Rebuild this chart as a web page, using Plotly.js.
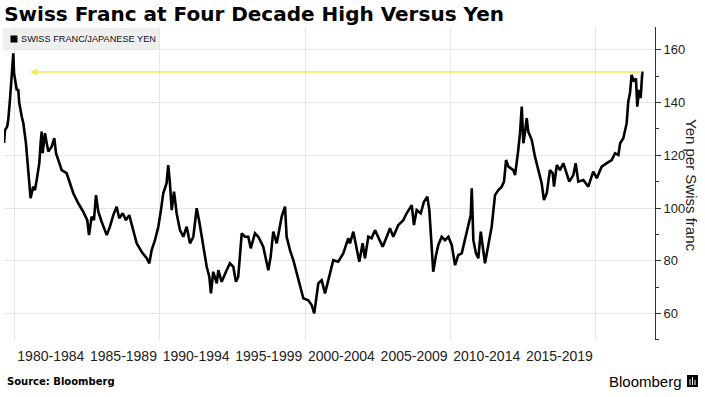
<!DOCTYPE html>
<html>
<head>
<meta charset="utf-8">
<script src="https://cdn.plot.ly/plotly-3.0.1.min.js"></script>
<style>
html,body{margin:0;padding:0;background:#fff;}
#chart{width:705px;height:397px;}
</style>
</head>
<body>
<div id="chart"></div>
<script>
// Decimal years
const years = [
1979.28,1979.35,1979.50,1979.57,1979.69,1979.81,1979.92,1979.97,1980.03,1980.15,
1980.26,1980.33,1980.50,1980.61,1980.79,1980.91,1981.07,1981.11,1981.29,1981.41,
1981.53,1981.71,1981.80,1981.87,1981.94,1982.10,1982.22,1982.33,1982.56,1982.74,
1982.86,1983.01,1983.25,1983.59,1983.82,1984.05,1984.39,1984.73,1985.01,1985.13,
1985.31,1985.47,1985.61,1985.77,1986.00,1986.35,1986.57,1986.80,1987.03,1987.21,
1987.45,1987.67,1987.90,1988.18,1988.41,1988.75,1989.10,1989.28,1989.44,1989.67,
1989.90,1990.08,1990.24,1990.47,1990.58,1990.70,1990.82,1990.98,1991.16,1991.39,
1991.62,1991.85,1992.08,1992.31,1992.54,1992.72,1992.99,1993.23,1993.41,1993.52,
1993.68,1993.92,1994.03,1994.26,1994.60,1994.83,1995.06,1995.24,1995.40,1995.64,
1995.86,1996.09,1996.26,1996.55,1996.78,1997.12,1997.47,1997.63,1997.81,1998.05,
1998.39,1998.62,1998.73,1998.96,1999.19,1999.42,1999.65,1999.88,2000.22,2000.45,
2000.63,2000.91,2001.14,2001.37,2001.60,2001.94,2002.28,2002.63,2002.97,2003.09,
2003.32,2003.55,2003.73,2003.96,2004.12,2004.35,2004.58,2004.81,2005.04,2005.34,
2005.62,2005.84,2006.07,2006.41,2006.76,2006.99,2007.34,2007.49,2007.68,2007.96,
2008.18,2008.41,2008.55,2008.71,2008.82,2009.01,2009.17,2009.40,2009.63,2009.86,
2010.09,2010.32,2010.54,2010.78,2011.00,2011.23,2011.40,2011.47,2011.58,2011.76,
2011.92,2012.09,2012.26,2012.38,2012.61,2012.84,2013.07,2013.30,2013.53,2013.69,
2013.83,2013.99,2014.33,2014.45,2014.67,2014.79,2014.91,2015.02,2015.13,2015.25,
2015.36,2015.60,2015.82,2016.05,2016.28,2016.44,2016.63,2016.85,2017.04,2017.13,
2017.32,2017.54,2017.77,2017.96,2018.18,2018.46,2018.62,2018.80,2019.15,2019.49,
2019.83,2020.07,2020.41,2020.76,2021.10,2021.33,2021.56,2021.68,2021.90,2022.13,
2022.24,2022.36,2022.47,2022.63,2022.77,2022.86,2022.99,2023.09,2023.21
];
// Yen per Swiss franc
const chfJpy = [
124.7,129.6,130.9,133.4,141.0,148.6,158.7,151.3,148.6,145.0,
144.8,139.9,134.7,132.2,124.6,117.0,108.1,103.7,108.1,106.8,
110.6,117.0,124.6,129.0,120.8,128.4,124.6,121.4,123.3,126.5,
120.8,118.2,114.4,113.2,109.4,105.6,101.8,98.6,95.4,89.7,
96.7,95.4,104.9,98.6,94.8,89.7,92.9,97.3,100.5,96.1,
98.0,95.4,97.3,91.6,86.6,83.4,80.9,79.0,84.0,87.8,
92.9,99.2,105.6,109.4,116.3,109.4,99.2,106.2,98.0,91.6,
89.1,92.9,86.6,89.1,99.9,94.8,85.3,77.7,73.9,67.6,
75.8,71.4,76.4,72.0,76.4,79.0,77.7,72.0,73.9,90.4,
89.1,89.1,84.7,90.4,89.1,85.3,76.4,81.5,91.0,86.6,
96.7,100.5,89.1,84.0,80.2,75.2,70.1,65.7,65.0,63.2,
60.0,71.4,72.6,67.6,72.6,80.2,79.6,82.8,88.5,86.6,
91.0,84.0,79.6,86.6,80.9,89.1,88.5,91.6,89.1,85.3,
89.1,92.3,89.1,93.5,95.4,98.0,101.1,93.5,99.2,98.0,
102.4,104.3,99.2,85.3,75.8,82.1,86.0,89.1,87.8,89.1,
86.0,78.3,82.1,82.8,87.8,93.5,97.3,107.5,87.8,82.8,
80.9,91.0,82.8,79.0,86.0,92.9,104.9,106.8,108.1,110.0,
118.2,115.7,114.4,112.5,122.0,128.4,138.5,124.6,128.4,134.1,
129.0,125.8,119.5,114.4,109.4,103.0,105.6,114.4,113.2,108.1,
116.3,114.4,117.0,113.8,110.0,112.5,117.0,110.0,110.6,108.1,
113.8,111.3,115.7,117.0,118.2,120.8,120.1,124.6,126.5,132.2,
140.4,143.6,150.5,148.0,149.2,138.5,144.8,141.7,151.8
];
const xTickVals = [1982.5,1987.5,1992.5,1997.5,2002.5,2007.5,2012.5,2017.5];
const xTickText = ['1980-1984','1985-1989','1990-1994','1995-1999','2000-2004','2005-2009','2010-2014','2015-2019'];
const yTickVals = [60,80,100,120,140,160];
const seriesName = 'SWISS FRANC/JAPANESE YEN';
const peakLevel = 151.6;
const arrowFrom = 2023.26, arrowTo = 1981.07;

// pixel -> paper helpers for decorations (plot area: x 4..655, y 27..340)
const px = v => (v - 4) / 651;
const py = v => (340 - v) / 313;

const tickFont = {family:'Liberation Sans, Arial, sans-serif', size:13, color:'#222'};

const data = [{
  type:'scatter', mode:'lines', x:years, y:chfJpy, name:seriesName,
  line:{color:'#000', width:2.6}, hoverinfo:'skip', showlegend:false
}];

const layout = {
  width:705, height:397,
  margin:{l:4, r:50, t:27, b:57},
  paper_bgcolor:'#fff', plot_bgcolor:'#fff',
  title:{text:'<b>Swiss Franc at Four Decade High Versus Yen</b>',
    xref:'container', yref:'container', x:0.006, xanchor:'left', y:1-14/397, yanchor:'middle',
    font:{family:'DejaVu Sans, Verdana, sans-serif', size:20, color:'#000'}},
  xaxis:{range:[1979.28, 2024.08], tickmode:'array', tickvals:xTickVals, ticktext:xTickText,
    showgrid:false, zeroline:false, showline:false, ticks:'', ticklabelstandoff:6,
    tickfont:{family:'Liberation Sans, Arial, sans-serif', size:14, color:'#222'},
    minor:{tick0:1980, dtick:10, showgrid:true, gridcolor:'#e6e6e6', gridwidth:1, ticks:''}},
  yaxis:{side:'right', range:[49.9,168.7], tickmode:'array', tickvals:yTickVals,
    showgrid:true, gridcolor:'#e6e6e6', gridwidth:1, zeroline:false,
    showline:true, linecolor:'#333', linewidth:1,
    ticks:'outside', ticklen:5, tickcolor:'#333', tickfont:tickFont,
    minor:{tick0:0, dtick:10, ticks:'outside', ticklen:3, tickcolor:'#333', showgrid:false}},
  annotations:[
    {xref:'paper', yref:'paper', x:px(19), y:py(39), xanchor:'left', yanchor:'middle',
     text:seriesName, showarrow:false, align:'left',
     font:{family:'Liberation Sans, Arial, sans-serif', size:9.2, color:'#111'}},
    {xref:'x', yref:'y', axref:'x', ayref:'y', x:arrowTo, y:peakLevel, ax:arrowFrom, ay:peakLevel,
     text:'', showarrow:true, arrowhead:2, arrowsize:1, arrowwidth:1.5, arrowcolor:'#f3ea55', standoff:0},
    {xref:'paper', yref:'paper', x:px(692), y:py(185), xanchor:'center', yanchor:'middle',
     text:'Yen per Swiss franc', textangle:90, showarrow:false,
     font:{family:'Liberation Sans, Arial, sans-serif', size:15, color:'#222'}},
    {xref:'paper', yref:'paper', x:px(5), y:py(381), xanchor:'left', yanchor:'middle',
     text:'<b>Source: Bloomberg</b>', showarrow:false,
     font:{family:'DejaVu Sans, Verdana, sans-serif', size:10, color:'#000'}},
    {xref:'paper', yref:'paper', x:px(684), y:py(381), xanchor:'right', yanchor:'middle',
     text:'Bloomberg', showarrow:false,
     font:{family:'Liberation Sans, Arial, sans-serif', size:15, color:'#000'}}
  ],
  shapes:[
    // legend box and swatch
    {type:'rect', xref:'paper', yref:'paper', x0:px(3), x1:px(160), y0:py(50), y1:py(28),
     fillcolor:'#efefef', line:{width:0}, layer:'below'},
    {type:'rect', xref:'paper', yref:'paper', x0:px(10.5), x1:px(17.5), y0:py(42.5), y1:py(35.5),
     fillcolor:'#000', line:{width:0}},
    // Bloomberg logo mark
    {type:'rect', xref:'paper', yref:'paper', x0:px(687), x1:px(698), y0:py(387), y1:py(375),
     fillcolor:'#000', line:{width:0}},
    {type:'line', xref:'paper', yref:'paper', x0:px(690), x1:px(690), y0:py(385), y1:py(379),
     line:{color:'#fff', width:1}},
    {type:'line', xref:'paper', yref:'paper', x0:px(692.5), x1:px(692.5), y0:py(385), y1:py(377),
     line:{color:'#fff', width:1}},
    {type:'line', xref:'paper', yref:'paper', x0:px(695), x1:px(695), y0:py(385), y1:py(380),
     line:{color:'#fff', width:1}}
  ]
};

Plotly.newPlot('chart', data, layout, {displayModeBar:false, staticPlot:true});
</script>
</body>
</html>
